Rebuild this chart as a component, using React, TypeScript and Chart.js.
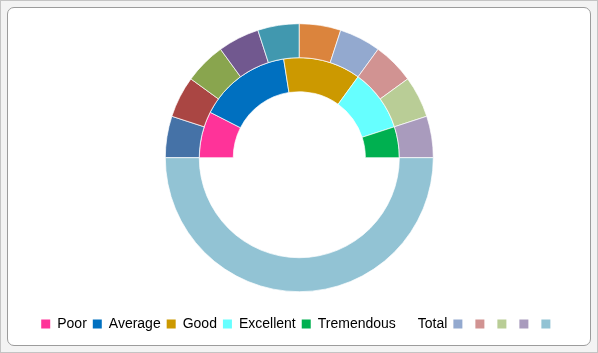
import React, { useEffect, useRef } from "react";
import { Chart, registerables } from "chart.js";

Chart.register(...registerables);

// Inner ring: ratings (bottom half hidden)
const ratingLabels = ["Poor", "Average", "Good", "Excellent", "Tremendous"];
const ratingValues = [15, 30, 25, 20, 10];
const ratingColors = ["#FF3399", "#0070C0", "#CC9900", "#66FFFF", "#00B050"];
const ratingHidden = 100;

// Outer ring: ten equal scale steps plus the "Total" half
const scaleValues = [10, 10, 10, 10, 10, 10, 10, 10, 10, 10];
const scaleColors = [
  "#4572A7", "#AA4643", "#89A54E", "#71588F", "#4198AF",
  "#DB843D", "#93A9CF", "#D19392", "#B9CD96", "#A99BBD",
];
const totalValue = 100;
const totalColor = "#92C3D4";

// Legend entries
const legendTexts = [...ratingLabels, "Total", "", "", "", "", ""];
const legendColors = [
  ...ratingColors, "rgba(0,0,0,0)",
  "#93A9CF", "#D19392", "#B9CD96", "#A99BBD", "#92C3D4",
];

export default function App() {
  const ref = useRef<HTMLCanvasElement | null>(null);
  useEffect(() => {
    if (!ref.current) return;
    const chart = new Chart(ref.current, {
      type: "doughnut",
      data: {
        labels: [...scaleValues.map((_, i) => "S" + (i + 1)), "Total"],
        datasets: [
          {
            data: [...scaleValues, totalValue],
            backgroundColor: [...scaleColors, totalColor],
            borderColor: "rgba(255,255,255,0.7)",
            borderWidth: 1,
          },
          {
            data: [...ratingValues, ratingHidden],
            backgroundColor: [...ratingColors, "rgba(0,0,0,0)"],
            borderColor: [...ratingColors.map(() => "rgba(255,255,255,0.7)"), "rgba(0,0,0,0)"],
            borderWidth: 1,
          },
        ],
      },
      options: {
        responsive: false,
        animation: false,
        rotation: -90,
        radius: 134,
        cutout: "49.3%",
        layout: { padding: { top: 3.4, bottom: 13, left: 8.6, right: 10 } },
        plugins: {
          tooltip: { enabled: false },
          legend: {
            display: true,
            position: "bottom",
            labels: {
              boxWidth: 9,
              boxHeight: 9,
              padding: 6,
              color: "#333333",
              font: { family: "'Liberation Sans', Arial, sans-serif", size: 14 },
              generateLabels: () =>
                legendTexts.map((t, i) => ({
                  text: t,
                  fillStyle: legendColors[i],
                  strokeStyle: "rgba(0,0,0,0)",
                  lineWidth: 0,
                  hidden: false,
                  index: i,
                })),
            },
          },
        },
      },
    });
    return () => chart.destroy();
  }, []);

  return (
    <div
      style={{
        position: "fixed",
        left: 0,
        top: 0,
        width: 598,
        height: 353,
        boxSizing: "border-box",
        border: "1px solid #c4c4c4",
        background: "#f3f3f3",
        padding: 5,
      }}
    >
      <div
        style={{
          position: "absolute",
          left: 6,
          top: 6,
          right: 6,
          bottom: 6,
          border: "1px solid #9c9c9c",
          borderRadius: 7,
          background: "#ffffff",
        }}
      />
      <canvas
        ref={ref}
        width={598}
        height={353}
        style={{ position: "absolute", left: 0, top: 0, display: "block" }}
      />
    </div>
  );
}
